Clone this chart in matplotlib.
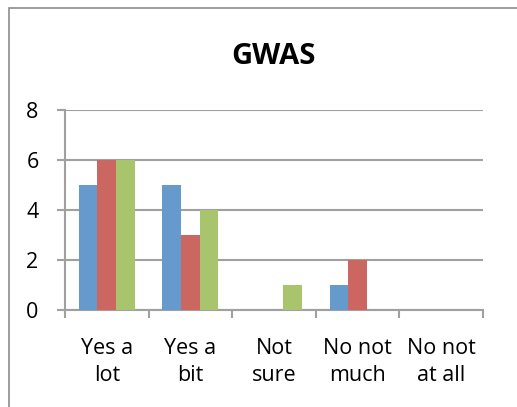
import numpy as np
import matplotlib.pyplot as plt
from matplotlib.patches import Rectangle

# data
categories = ['Yes a\nlot', 'Yes a\nbit', 'Not\nsure', 'No not\nmuch', 'No not\nat all']
series1 = [5, 5, 0, 1, 0]
series2 = [6, 3, 0, 2, 0]
series3 = [6, 4, 1, 0, 0]
colors = ['#6699CC', '#CC6660', '#A8C46C']
grey = '#A0A0A0'

plt.rcParams['font.family'] = ['Open Sans', 'DejaVu Sans']

fig = plt.figure(figsize=(5.17, 4.07), dpi=100)
ax = fig.add_axes([0.1257, 0.2383, 0.8083, 0.4914])

# outer chart border (cropped on right and bottom)
fig.patches.append(Rectangle((9 / 517, -0.1), 1.2, 1 - 8 / 407 + 0.1,
                             transform=fig.transFigure, fill=False,
                             edgecolor='#8C8C8C', linewidth=1.2))

x = np.arange(len(categories))
w = 1 / 4.5
for i, (vals, c) in enumerate(zip([series1, series2, series3], colors)):
    ax.bar(x + (i - 1) * w, vals, width=w, color=c, zorder=3)

ax.set_xlim(-0.5, len(categories) - 0.5)
ax.set_ylim(0, 8)
ax.set_yticks([0, 2, 4, 6, 8])
ax.yaxis.grid(True, color=grey, linewidth=1.5, zorder=0)

# category labels at centres, tick marks at boundaries
ax.set_xticks(x)
ax.set_xticklabels(categories, fontsize=15.5, linespacing=1.4)
ax.tick_params(axis='x', length=0, pad=20)
ax.set_xticks(np.arange(-0.5, len(categories)), minor=True)
ax.tick_params(axis='x', which='minor', length=6, width=1.5, color=grey)
ax.tick_params(axis='y', length=6, width=1.5, color=grey, labelsize=15.5, pad=13)

for s in ['top', 'right']:
    ax.spines[s].set_visible(False)
for s in ['left', 'bottom']:
    ax.spines[s].set_color(grey)
    ax.spines[s].set_linewidth(1.5)

fig.text(273 / 517, 1 - 56 / 407, 'GWAS', fontsize=21, fontweight='bold',
         ha='center', va='center')

fig.savefig('out.png', dpi=100)
